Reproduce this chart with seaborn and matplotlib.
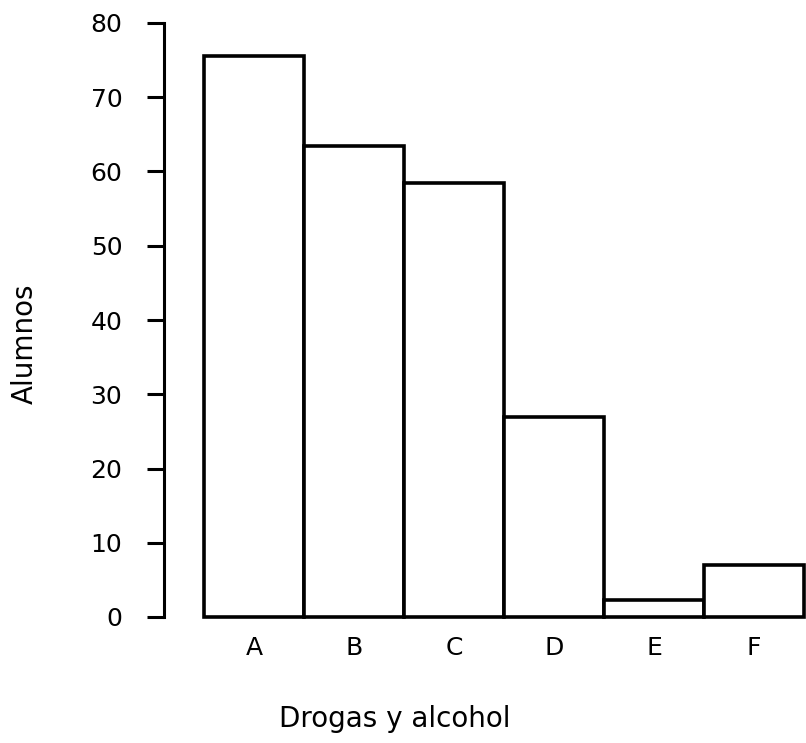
import pandas as pd
import matplotlib
matplotlib.use('Agg')
import matplotlib.pyplot as plt
import seaborn as sns

# Values
categorias = ['A', 'B', 'C', 'D', 'E', 'F']
alumnos = [75.5, 63.5, 58.5, 27, 2.3, 7]
y_ticks = [0, 10, 20, 30, 40, 50, 60, 70, 80]

data = pd.DataFrame({'Droga': categorias, 'Alumnos': alumnos})

sns.set_style('white')
plt.rcParams['font.family'] = ['DejaVu Sans']
plt.rcParams['text.color'] = 'black'
plt.rcParams['xtick.color'] = 'black'
plt.rcParams['ytick.color'] = 'black'
plt.rcParams['axes.labelcolor'] = 'black'

fig = plt.figure(figsize=(8.06, 7.43), dpi=100)
ax = fig.add_axes([164 / 806, 1 - 617 / 743, 1 - 164 / 806, (617 - 23) / 743])

sns.barplot(x='Droga', y='Alumnos', data=data, order=categorias, color='white',
            saturation=1, edgecolor='black', linewidth=2.6, width=1.0, ax=ax)
for p in ax.patches:
    p.set_clip_on(False)

ax.set_ylim(0, 80)
ax.set_xlim(-0.9, 5.52)
ax.set_yticks(y_ticks)
ax.tick_params(axis='y', left=True, length=12, width=2.2, pad=18, labelsize=18)
ax.tick_params(axis='x', bottom=False, length=0, pad=14, labelsize=18)

sns.despine(ax=ax, top=True, right=True, bottom=True)
ax.spines['left'].set_linewidth(2.2)
ax.spines['left'].set_color('black')

ax.set_ylabel('Alumnos', fontsize=20)
ax.yaxis.set_label_coords(-0.195, 0.46)
ax.set_xlabel('')
fig.text(395 / 806, 1 - 719 / 743, 'Drogas y alcohol', fontsize=20, ha='center', va='center')

fig.savefig('out.png', dpi=100)
